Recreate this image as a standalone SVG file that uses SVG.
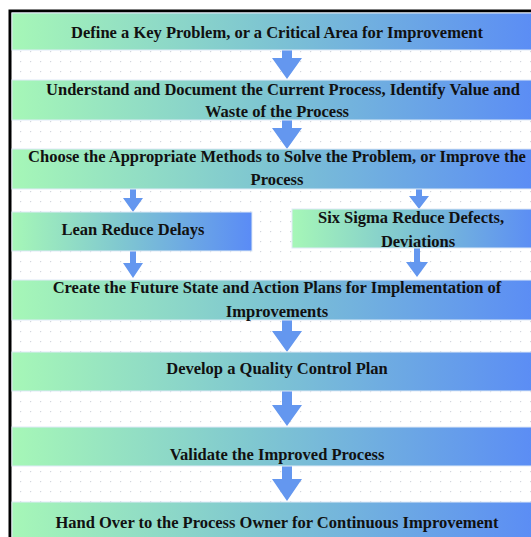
<svg xmlns="http://www.w3.org/2000/svg" width="531" height="537" viewBox="0 0 531 537">
  <defs>
    <linearGradient id="stepFill" x1="0" y1="0" x2="1" y2="0">
      <stop offset="0" stop-color="#a6f7b7"/>
      <stop offset="0.45" stop-color="#80c8d0"/>
      <stop offset="1" stop-color="#5a8bf6"/>
    </linearGradient>
    <pattern id="dotGrid" x="0" y="1" width="10" height="10" patternUnits="userSpaceOnUse">
      <circle cx="0.5" cy="0.5" r="0.8" fill="#d4d7de"/>
    </pattern>
  </defs>
  <style>
    .step { fill: url(#stepFill); stroke: #dfeaf7; stroke-width: 1; }
    .label { font-family: "Liberation Serif", "Times New Roman", serif; font-weight: bold; font-size: 16.5px; fill: #111; text-anchor: middle; }
    .arrow { fill: #6497ef; }
  </style>

  <!-- canvas with dotted grid and frame -->
  <rect x="0" y="0" width="531" height="537" fill="#ffffff"/>
  <rect x="11" y="12" width="530" height="530" fill="url(#dotGrid)"/>
  <path d="M10 545 V11 H540" fill="none" stroke="#000" stroke-width="3"/>

  <!-- connectors -->
  <g id="connectors">
    <!-- main flow arrows -->
    <path class="arrow" d="M282 50 H292 V58 H302 L287 79 L272 58 H282 Z"/>
    <path class="arrow" d="M282 120 H292 V128 H302 L287 149 L272 128 H282 Z"/>
    <path class="arrow" d="M282 320 H292 V331 H302 L287 352 L272 331 H282 Z"/>
    <path class="arrow" d="M282 391 H292 V405 H302 L287 426 L272 405 H282 Z"/>
    <path class="arrow" d="M282 466 H292 V479 H302 L287 501 L272 479 H282 Z"/>
    <!-- branch arrows -->
    <path class="arrow" d="M130 189 H136 V198 H143 L133 212 L123 198 H130 Z"/>
    <path class="arrow" d="M416 189 H422 V196 H429 L419 209 L409 196 H416 Z"/>
    <path class="arrow" d="M130 251 H136 V263 H143 L133 278 L123 263 H130 Z"/>
    <path class="arrow" d="M414 248 H420 V262 H428 L417 277 L406 262 H414 Z"/>
  </g>

  <g id="define">
    <rect class="step" x="12" y="13" width="530" height="37"/>
    <text class="label" x="277" y="38">Define a Key Problem, or a Critical Area for Improvement</text>
  </g>

  <g id="understand">
    <rect class="step" x="12" y="80" width="530" height="40"/>
    <text class="label" x="283" y="95">Understand and Document the Current Process, Identify Value and</text>
    <text class="label" x="277" y="117">Waste of the Process</text>
  </g>

  <g id="choose">
    <rect class="step" x="12" y="149" width="530" height="40"/>
    <text class="label" x="277" y="162">Choose the Appropriate Methods to Solve the Problem, or Improve the</text>
    <text class="label" x="277" y="185">Process</text>
  </g>

  <g id="lean">
    <rect class="step" x="12" y="212" width="240" height="39"/>
    <text class="label" x="133" y="235">Lean Reduce Delays</text>
  </g>

  <g id="six-sigma">
    <rect class="step" x="292" y="209" width="246" height="39"/>
    <text class="label" x="411" y="223">Six Sigma Reduce Defects,</text>
    <text class="label" x="418" y="247">Deviations</text>
  </g>

  <g id="future-state">
    <rect class="step" x="12" y="280" width="530" height="40"/>
    <text class="label" x="277" y="293">Create the Future State and Action Plans for Implementation of</text>
    <text class="label" x="277" y="317">Improvements</text>
  </g>

  <g id="control-plan">
    <rect class="step" x="12" y="352" width="530" height="39"/>
    <text class="label" x="277" y="374">Develop a Quality Control Plan</text>
  </g>

  <g id="validate">
    <rect class="step" x="12" y="427" width="530" height="39"/>
    <text class="label" x="277" y="460">Validate the Improved Process</text>
  </g>

  <g id="hand-over">
    <rect class="step" x="12" y="502" width="530" height="40"/>
    <text class="label" x="277" y="528">Hand Over to the Process Owner for Continuous Improvement</text>
  </g>
</svg>
